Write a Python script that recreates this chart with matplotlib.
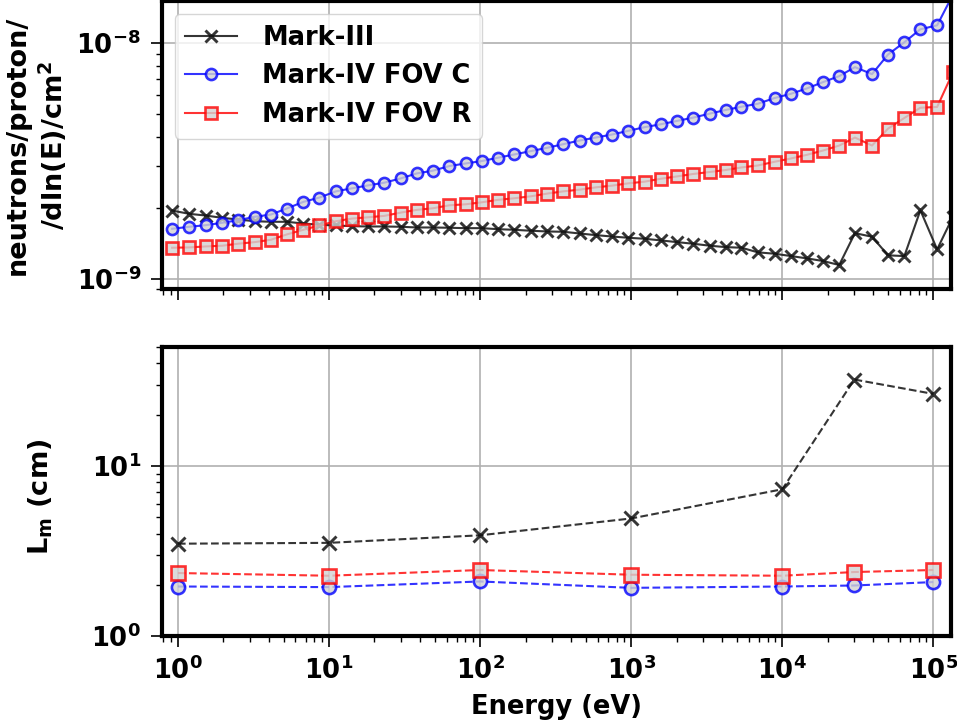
import matplotlib
matplotlib.use("Agg")
import matplotlib.pyplot as plt

plt.rcParams["font.family"] = ["DejaVu Sans"]
plt.rcParams["font.weight"] = "bold"
plt.rcParams["axes.labelweight"] = "bold"
plt.rcParams["mathtext.fontset"] = "custom"
plt.rcParams["mathtext.rm"] = "DejaVu Sans:bold"
plt.rcParams["mathtext.bf"] = "DejaVu Sans:bold"
plt.rcParams["mathtext.it"] = "DejaVu Sans:bold"
plt.rcParams["mathtext.default"] = "bf"

# Spectrum per unit lethargy (eV)
energy = [0.916, 1.189, 1.524, 1.963, 2.506, 3.221, 4.130, 5.248, 6.761, 8.630,
          11.12, 14.19, 18.20, 23.23, 29.85, 38.11, 48.64, 62.66, 80.35, 102.6,
          130.9, 167.9, 216.8, 277.3, 356.4, 455.0, 583.4, 744.7, 955.0, 1225,
          1574, 2009, 2564, 3304, 4217, 5370, 6902, 8892, 11430, 14590,
          18620, 23820, 30270, 39260, 50120, 64270, 82040, 105900, 134900]

mark3 = [1.945, 1.884, 1.853, 1.812, 1.782, 1.753, 1.743, 1.743, 1.714, 1.693,
         1.681, 1.670, 1.665, 1.665, 1.660, 1.649, 1.649, 1.644, 1.638, 1.638,
         1.622, 1.612, 1.597, 1.586, 1.581, 1.555, 1.530, 1.510, 1.491, 1.477,
         1.453, 1.429, 1.407, 1.380, 1.361, 1.353, 1.293, 1.276, 1.247, 1.219,
         1.188, 1.143, 1.560, 1.506, 1.256, 1.247, 1.951, 1.331, 1.835]

fov_c = [1.628, 1.660, 1.686, 1.726, 1.770, 1.830, 1.871, 1.984, 2.117, 2.208,
         2.347, 2.417, 2.488, 2.554, 2.663, 2.796, 2.871, 3.005, 3.082, 3.155,
         3.258, 3.364, 3.477, 3.590, 3.722, 3.855, 3.969, 4.087, 4.236, 4.391,
         4.521, 4.668, 4.820, 5.012, 5.195, 5.364, 5.523, 5.839, 6.088, 6.417,
         6.823, 7.233, 7.897, 7.375, 8.933, 10.07, 11.43, 11.88, 16.06]

fov_r = [1.353, 1.357, 1.370, 1.380, 1.407, 1.429, 1.463, 1.540, 1.612, 1.681,
         1.753, 1.799, 1.822, 1.847, 1.907, 1.958, 1.989, 2.048, 2.068, 2.109,
         2.159, 2.193, 2.236, 2.295, 2.347, 2.386, 2.440, 2.481, 2.537, 2.579,
         2.655, 2.715, 2.780, 2.835, 2.890, 2.964, 3.022, 3.133, 3.236, 3.354,
         3.497, 3.671, 3.969, 3.671, 4.331, 4.806, 5.312, 5.350, 7.519]

flux_unit = 1e-9

# Mean free path L_m (cm)
lm_energy = [1, 10, 100, 1e3, 1e4, 3e4, 1e5]
lm_mark3 = [3.49, 3.53, 3.91, 4.91, 7.29, 32.2, 26.5]
lm_fov_c = [1.955, 1.939, 2.093, 1.920, 1.955, 1.982, 2.076]
lm_fov_r = [2.346, 2.262, 2.444, 2.293, 2.262, 2.378, 2.444]

labels = ["Mark-III", "Mark-IV FOV C", "Mark-IV FOV R"]

fig = plt.figure(figsize=(9.57, 7.24), dpi=100)
ax1 = fig.add_axes([0.1693, 0.6002, 0.8240, 0.3978])
ax2 = fig.add_axes([0.1693, 0.1215, 0.8240, 0.3992], sharex=ax1)

ms_top = 8
mew = 1.9
face = "lightgray"
dark = "#111111"

ax1.plot(energy, [v * flux_unit for v in mark3], "-x", color=dark, alpha=0.85,
         lw=1.5, ms=ms_top, mew=2.1, label=labels[0])
ax1.plot(energy, [v * flux_unit for v in fov_c], "-o", color="blue", alpha=0.8,
         lw=1.5, ms=ms_top, mew=mew, mfc=face, mec="blue", label=labels[1])
ax1.plot(energy, [v * flux_unit for v in fov_r], "-s", color="red", alpha=0.8,
         lw=1.5, ms=ms_top, mew=mew, mfc=face, mec="red", label=labels[2])

ms_bot = 9.5
ax2.plot(lm_energy, lm_mark3, "--x", color=dark, alpha=0.85,
         lw=1.5, ms=ms_bot + 1, mew=2.1)
ax2.plot(lm_energy, lm_fov_c, "--o", color="blue", alpha=0.8,
         lw=1.5, ms=ms_bot, mew=mew, mfc=face, mec="blue")
ax2.plot(lm_energy, lm_fov_r, "--s", color="red", alpha=0.8,
         lw=1.5, ms=ms_bot, mew=mew, mfc=face, mec="red")

for ax in (ax1, ax2):
    ax.set_xscale("log")
    ax.set_yscale("log")
    ax.grid(True, which="major", color="#b0b0b0", lw=1.2)
    for sp in ax.spines.values():
        sp.set_linewidth(3)
    ax.tick_params(which="major", length=8, width=1.2, pad=7, labelsize=18.5)
    ax.tick_params(which="minor", length=4.5, width=1.0)

ax1.set_xlim(0.785, 1.3e5)
ax1.set_ylim(9e-10, 1.5e-8)
ax2.set_ylim(1, 50)
ax1.tick_params(labelbottom=False)

ax1.set_ylabel("neutrons/proton/\n/dln(E)/cm$^2$", fontsize=19.5,
               fontweight="bold")
ax1.yaxis.set_label_coords(-0.118, 0.5)
ax2.set_ylabel("L$_m$ (cm)", fontsize=19.5, fontweight="bold")
ax2.yaxis.set_label_coords(-0.136, 0.48)
ax2.set_xlabel("Energy (eV)", fontsize=18.5, fontweight="bold", labelpad=6)

ax1.legend(loc="upper left", framealpha=0.8, handletextpad=1.0,
           prop={"weight": "bold", "size": 18.5})

fig.savefig("out.png", dpi=100)
